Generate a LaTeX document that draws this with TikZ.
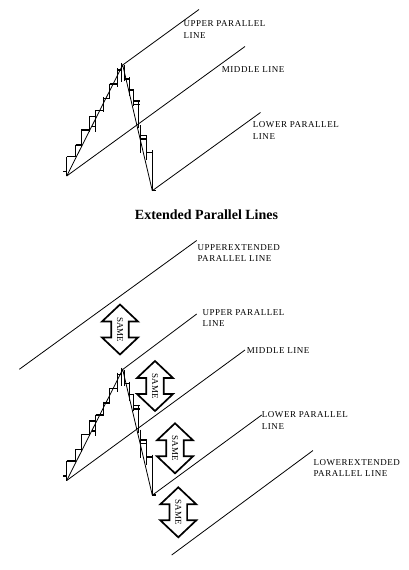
\documentclass[tikz,border=0pt]{standalone}
\usepackage{fontspec}
\setmainfont{Liberation Serif}
\newfontfamily\lblfont[LetterSpace=6]{Liberation Serif}
\tikzset{
  pline/.style={line width=0.8pt},
  barv/.style={line width=0.7pt},
  bartick/.style={line width=1.5pt},
  lbl/.style={anchor=north west, inner sep=0pt, align=left, font=\lblfont\fontsize{9}{11.5}\selectfont},
  arrowbox/.style={draw=black, fill=white, line width=1.7pt, line join=miter},
  samearrow/.pic={
    \draw[arrowbox] (0,-25) -- (18,-8) -- (8.8,-8) -- (8.8,8) -- (18,8) -- (0,25)
      -- (-18,8) -- (-8.8,8) -- (-8.8,-8) -- (-18,-8) -- cycle;
    \node[rotate=-90, inner sep=0pt, font=\fontsize{9}{10}\selectfont] (-txt) at (0,0) {SAME};
  }
}
\newcommand{\pfchart}{%
  \draw[barv] (66.7,156.5) -- (66.7,176);
  \draw[bartick] (63,171.5) -- (66.7,171.5);
  \draw[bartick] (66.7,156.5) -- (76,156.5);
  \draw[barv] (75.5,144.5) -- (75.5,157); \draw[bartick] (75.5,145) -- (81,145);
  \draw[barv] (81,130) -- (81,147); \draw[bartick] (81,130) -- (89.5,130);
  \draw[barv] (89,116.5) -- (89,131.5); \draw[bartick] (89,116.5) -- (95.5,116.5);
  \draw[barv] (95.7,110) -- (95.7,131.5); \draw[bartick] (91.5,126.5) -- (95.7,126.5);
  \draw[bartick] (95.7,110.5) -- (103,110.5);
  \draw[barv] (103.5,97) -- (103.5,111.5); \draw[bartick] (103.5,98.5) -- (109.5,98.5);
  \draw[barv] (109.5,83.5) -- (109.5,99); \draw[bartick] (109.5,84) -- (117,84);
  \draw[barv] (117,68) -- (117,87); \draw[bartick] (117,70) -- (121,70);
  \draw[barv] (121,63) -- (121,81.5);
  \draw[barv] (124.5,65) -- (124.5,81); \draw[bartick] (124.5,79) -- (129,79);
  \draw[barv] (129,77) -- (129,96); \draw[bartick] (129,90) -- (133.5,90);
  \draw[barv] (133.5,89) -- (133.5,106); \draw[bartick] (133.5,101) -- (140,101);
  \draw[bartick] (133.5,104.5) -- (140,104.5);
  \draw[barv] (138.5,100) -- (138.5,128);
  \draw[barv] (140.5,125) -- (140.5,153); \draw[bartick] (140.5,135.5) -- (147,135.5);
  \draw[bartick] (140.5,139) -- (147,139);
  \draw[barv] (146.5,135) -- (146.5,160); \draw[bartick] (146.5,152.5) -- (152.5,152.5);
  \draw[barv] (152,150) -- (152,190.5); \draw[bartick] (152,190.5) -- (156,190.5);
}
\begin{document}
\begin{tikzpicture}[x=1pt,y=-1pt]
\useasboundingbox (0,0) rectangle (408,570);
% ---------- top chart ----------
\coordinate (A1) at (66.7,176);
\coordinate (B1) at (122.7,65);
\coordinate (C1) at (152.3,190.7);
\coordinate (U1) at (199,9.5);
\coordinate (M1) at (245,46.5);
\coordinate (L1) at (260.5,112.5);
\pfchart
\draw[pline] (A1) -- (B1) -- (C1);
\draw[pline] (B1) -- (U1);
\draw[pline] (A1) -- (M1);
\draw[pline] (C1) -- (L1);
\node[lbl] (tu) at (183.3,20.5) {UPPER PARALLEL\\LINE};
\node[lbl] (tm) at (221.7,66.5) {MIDDLE LINE};
\node[lbl] (tl) at (252.7,121.5) {LOWER PARALLEL\\LINE};
% ---------- title ----------
\node[anchor=base, inner sep=0pt, font=\bfseries\fontsize{14}{16}\selectfont] (title) at (206.5,219.3) {Extended Parallel Lines};
% ---------- bottom chart ----------
\coordinate (A2) at (66.7,480.5);
\coordinate (B2) at (122.7,369.5);
\coordinate (C2) at (152.3,495.2);
\coordinate (XUs) at (19.3,369.3);
\coordinate (XUe) at (196.7,240.5);
\coordinate (U2) at (196.7,314);
\coordinate (M2) at (245,350);
\coordinate (L2) at (261.7,415);
\coordinate (XLs) at (171.7,555);
\coordinate (XLe) at (313,450.5);
\begin{scope}[shift={(0,304.5)}]
\pfchart
\end{scope}
\draw[pline] (A2) -- (B2) -- (C2);
\draw[pline] (XUs) -- (XUe);
\draw[pline] (B2) -- (U2);
\draw[pline] (A2) -- (M2);
\draw[pline] (C2) -- (L2);
\draw[pline] (XLs) -- (XLe);
\node[lbl] (bxu) at (197.3,244) {UPPEREXTENDED\\PARALLEL LINE};
\node[lbl] (bu) at (202.3,309.3) {UPPER PARALLEL\\LINE};
\node[lbl] (bm) at (246.7,347.3) {MIDDLE LINE};
\node[lbl] (bl) at (261.7,411.7) {LOWER PARALLEL\\LINE};
\node[lbl] (bxl) at (313.3,459) {LOWEREXTENDED\\PARALLEL LINE};
\pic (s1) at (120,329.5) {samearrow};
\pic (s2) at (155,386) {samearrow};
\pic (s3) at (175,448.3) {samearrow};
\pic (s4) at (178.3,512.3) {samearrow};
\end{tikzpicture}
\end{document}
